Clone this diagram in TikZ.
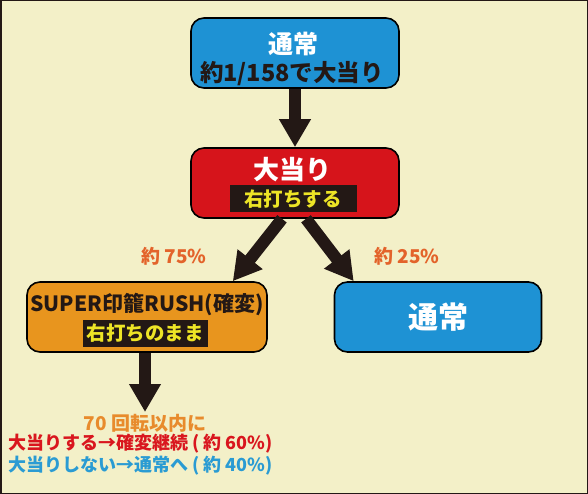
\documentclass[tikz,border=0pt]{standalone}
\usepackage{fontspec}
\setmainfont{Noto Sans CJK JP}
\usetikzlibrary{arrows.meta,positioning}
\definecolor{bgcream}{HTML}{F3F0C8}
\definecolor{inkdark}{HTML}{231815}
\definecolor{boxblue}{HTML}{1E92D4}
\definecolor{boxred}{HTML}{D6141B}
\definecolor{boxorange}{HTML}{E8951E}
\definecolor{pctorange}{HTML}{E3632A}
\definecolor{noteorange}{HTML}{E88B2C}
\definecolor{notered}{HTML}{D9161E}
\definecolor{noteblue}{HTML}{2A9BD3}
\definecolor{tagyellow}{HTML}{EDE426}
\newcommand{\fs}[1]{\fontsize{#1}{#1}\selectfont\bfseries}
\tikzset{
  flowbox/.style={draw=black, line width=1.6pt, rounded corners=13pt,
    minimum height=70pt, inner sep=0pt},
  boxtitle/.style={inner sep=0pt, text=white, font=\fs{26}},
  tagbox/.style={fill=inkdark, text=tagyellow, font=\fs{19.5},
    minimum height=27pt, inner sep=3pt},
  pct/.style={text=pctorange, font=\fs{19}},
  note/.style={font=\fs{18}, anchor=west, inner sep=0pt},
  bigarrow/.style={draw=inkdark, line width=12pt,
    -{Triangle[width=30pt,length=28pt]}}
}
\begin{document}
\begin{tikzpicture}[x=1pt, y=-1pt]
    \fill[bgcream] (0,0) rectangle (588,494);
    \draw[inkdark, line width=1.5pt] (0.75,0.75) rectangle (587.25,493.25);
    % boxes
    \node[flowbox, fill=boxblue, minimum width=208pt] (top) at (295,53) {};
    \node[flowbox, fill=boxred, minimum width=208pt] (win) at (295,183) {};
    \node[flowbox, fill=boxorange, minimum width=240pt] (rush) at (147,317) {};
    \node[flowbox, fill=boxblue, minimum width=207pt] (normal) at (438,317) {};
    % texts in the boxes
    \node[boxtitle, font=\fs{25}] (topT) at (293,44) {通常};
    \node[boxtitle, text=inkdark, font=\fs{23.5}] (topS) at (292,74) {約1/158で大当り};
    \node[boxtitle] (winT) at (292,170) {大当り};
    \node[tagbox, minimum width=127pt] (winS) at (293,199) {右打ちする};
    \node[boxtitle, text=inkdark, font=\fs{21}] (rushT) at (147,305) {SUPER印籠RUSH(確変)};
    \node[tagbox, minimum width=125pt] (rushS) at (145,333) {右打ちのまま};
    \node[boxtitle, font=\fs{30}] (normalT) at (438,317) {通常};
    % rates
    \node[pct] (p75) at (174,256) {約 75\%};
    \node[pct] (p25) at (407,256) {約 25\%};
    % notes
    \coordinate (noteTip) at (145,412);
    \node[text=noteorange, font=\fs{19}] (noteA) at (145,423) {70 回転以内に};
    \node[note, text=notered] (noteB) at (8,444)
        {大当りする→確変継続 ( 約 60\%)};
    \node[note, text=noteblue] (noteC) at (8,466)
        {大当りしない→通常へ ( 約 40\%)};
    % arrows
    \draw[bigarrow] (top.south) -- (win.north);
    \draw[bigarrow] ([xshift=-13pt]win.south) -- ([xshift=-35pt]rush.north east);
    \draw[bigarrow] ([xshift=11pt]win.south) -- ([xshift=20pt]normal.north west);
    \draw[bigarrow] ([xshift=-2pt]rush.south) -- (noteTip);
\end{tikzpicture}
\end{document}
